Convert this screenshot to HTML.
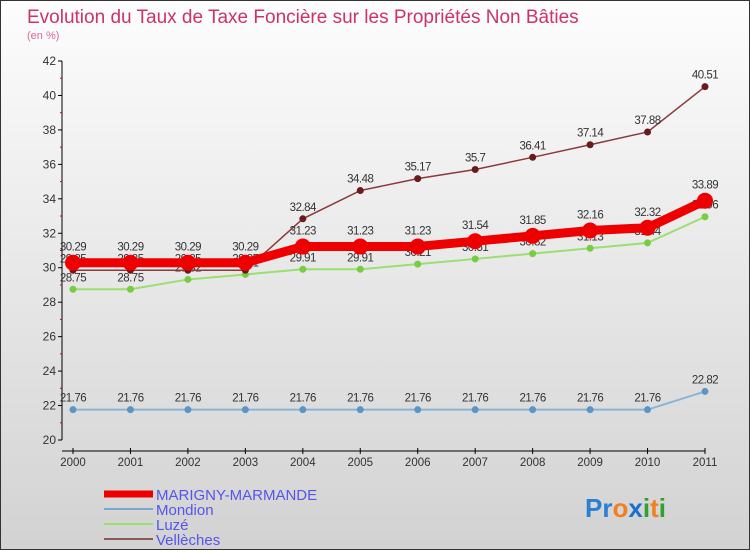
<!DOCTYPE html>
<html><head><meta charset="utf-8"><style>
body{margin:0}
#wrap{width:748px;height:548px;border:1px solid #333;background:linear-gradient(#fdfdfd,#d2d2d2);position:relative;font-family:"Liberation Sans",sans-serif}
svg text{font-family:"Liberation Sans",sans-serif}
</style></head><body>
<div id="wrap">
<svg id="c" width="748" height="548">
<text x="26" y="22" font-size="19" fill="#cc3366">Evolution du Taux de Taxe Foncière sur les Propriétés Non Bâties</text>
<text x="26" y="38" font-size="11" fill="#dd6699">(en %)</text>
<g id="axes"></g><g id="series"></g><g id="legend"></g>
<text x="584" y="516" font-size="26" font-weight="bold"><tspan fill="#2a7fd4">Pr</tspan><tspan fill="#f08020">o</tspan><tspan fill="#1a6fd0">x</tspan><tspan fill="#30a030">i</tspan><tspan fill="#f08020">t</tspan><tspan fill="#30a030">i</tspan></text>
</svg></div>
<script>
const years=[2000,2001,2002,2003,2004,2005,2006,2007,2008,2009,2010,2011];
const yTicks=[20,22,24,26,28,30,32,34,36,38,40,42];
const marigny=[30.29,30.29,30.29,30.29,31.23,31.23,31.23,31.54,31.85,32.16,32.32,33.89];
const mondion=[21.76,21.76,21.76,21.76,21.76,21.76,21.76,21.76,21.76,21.76,21.76,22.82];
const luze=[28.75,28.75,29.32,29.61,29.91,29.91,30.21,30.51,30.82,31.13,31.44,32.96];
const velleches=[29.85,29.85,29.85,29.85,32.84,34.48,35.17,35.7,36.41,37.14,37.88,40.51];
const NS="http://www.w3.org/2000/svg";
const X=i=>72+i*(704-72)/(years.length-1);
const Y=v=>439-(v-20)*(439-60)/22;
function mk(t,a,p){const e=document.createElementNS(NS,t);for(const k in a)e.setAttribute(k,a[k]);p.appendChild(e);return e;}
const ax=document.getElementById('axes');
const yl=mk('line',{x1:61,y1:60,x2:61,y2:439,stroke:'#000'},ax);


yTicks.forEach(v=>{
 mk('line',{x1:57,y1:Y(v),x2:61,y2:Y(v),stroke:'#000'},ax);
 if(v<42)mk('line',{x1:59,y1:Y(v+1),x2:61,y2:Y(v+1),stroke:'#d00'},ax);
 const t=mk('text',{x:55,y:Y(v)+4,'font-size':12,'text-anchor':'end',fill:'#333'},ax);t.textContent=v;
 
 
});
const xl=mk('line',{x1:61,y1:450,x2:704,y2:450,stroke:'#000'},ax);


years.forEach((y,i)=>{
 mk('line',{x1:X(i),y1:447,x2:X(i),y2:453,stroke:'#000'},ax);
 const t=mk('text',{x:X(i),y:465,'font-size':11.5,'text-anchor':'middle',fill:'#333'},ax);t.textContent=y;
 
 
});
const sg=document.getElementById('series');
function draw(vals,name,color,dot,w,r,dy){
 const g=mk('g',{},sg);
 
 
 const pl=mk('polyline',{points:vals.map((v,i)=>X(i)+','+Y(v)).join(' '),fill:'none',stroke:color,'stroke-width':w},g);
 
 
 vals.forEach((v,i)=>{
  const c=mk('circle',{cx:X(i),cy:Y(v),r:r,fill:dot},g);
  
  
  const t=mk('text',{x:X(i),y:Y(v)+dy,'font-size':11.5,'text-anchor':'middle',fill:'#333','letter-spacing':'-0.5'},g);
  t.textContent=v.toFixed(2).replace(/0$/,'').replace(/\.$/,'');
  
  
 });
}
draw(mondion,'mondion','#8ab4d6','#5b95c6',2,3.5,-8);
draw(luze,'luze','#9adf70','#77cc44',2,3.5,-8);
draw(velleches,'velleches','#8a3a3a','#6a1a1a',1.5,3.5,-8);
draw(marigny,'marigny-marmande','#ee0000','#ee0000',9,8,-12);
const lg=document.getElementById('legend');
[['MARIGNY-MARMANDE','#ee0000',7],['Mondion','#7aa8cc',2],['Luzé','#9adf70',2],['Vellèches','#8a5a5a',2]].forEach((d,i)=>{
 const y=493+i*15;
 const l=mk('line',{x1:103,y1:y,x2:152,y2:y,stroke:d[1],'stroke-width':d[2]},lg);
 
 
 const t=mk('text',{x:155,y:y+6,'font-size':15,fill:'#5555ee'},lg);t.textContent=d[0];
 
 
});
</script></body></html>
